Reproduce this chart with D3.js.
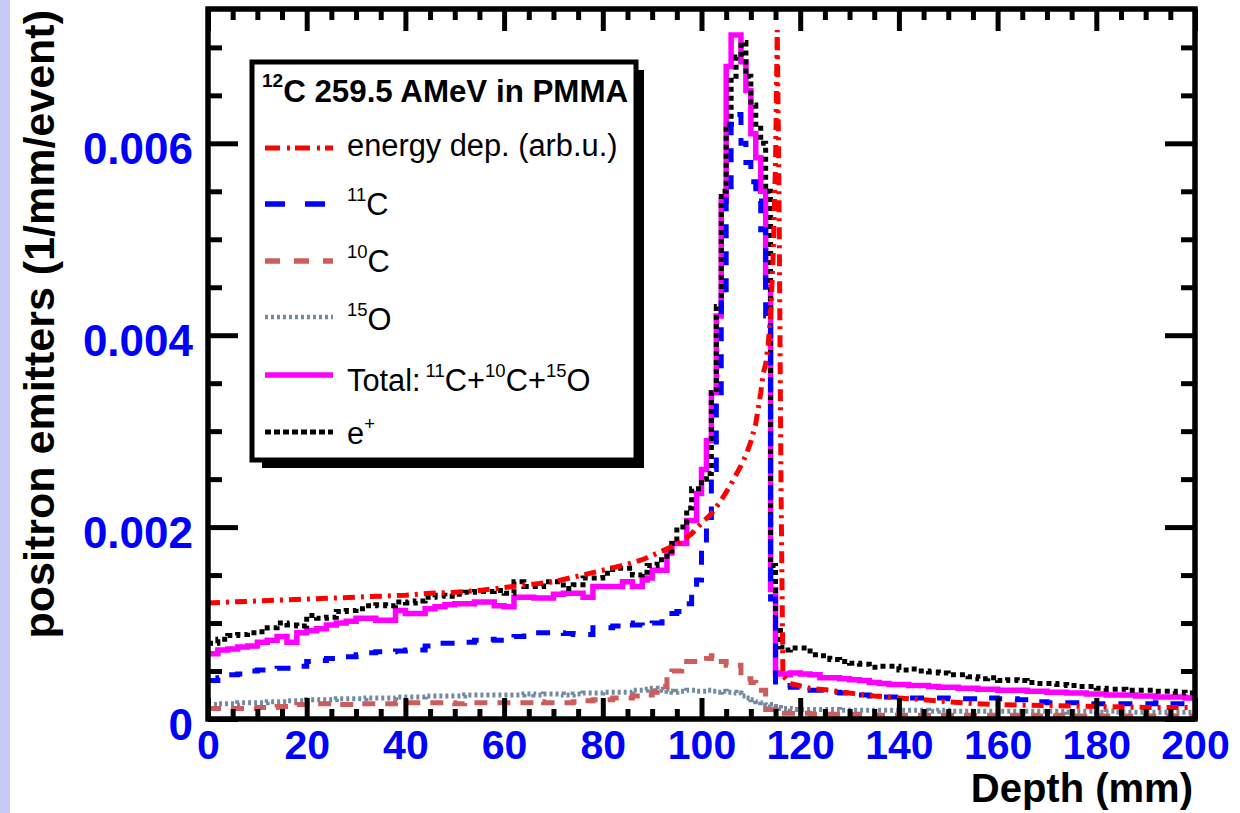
<!DOCTYPE html>
<html><head><meta charset="utf-8">
<script src="https://cdn.jsdelivr.net/npm/d3@7/dist/d3.min.js"></script>
<style>html,body{margin:0;padding:0;background:#fff;overflow:hidden;} svg{display:block;}</style>
</head><body>
<svg id="chart" width="1240" height="813"></svg>
<script>
// ---------------- DATA ----------------
// histogram bin edges (mm): 2 mm bins 0-88, 1 mm bins 88-118, 2 mm bins 118-200
const depthEdges = [
  0,2,4,6,8,10,12,14,16,18,20,22,24,26,28,30,32,34,36,38,40,42,44,46,48,50,52,54,56,58,60,62,64,66,68,70,72,74,76,78,80,82,84,86,88,
  89,90,91,92,93,94,95,96,97,98,99,100,101,102,103,104,105,106,107,108,109,110,111,112,113,114,115,116,117,118,
  120,122,124,126,128,130,132,134,136,138,140,142,144,146,148,150,152,154,156,158,160,162,164,166,168,170,172,174,176,178,180,182,184,186,188,190,192,194,196,198,200
];
// Total: 11C + 10C + 15O
const totalValues = [
  0.00068,0.00072,0.00073,0.00075,0.00076,0.0008,0.00082,0.00086,0.0008,0.0009,
  0.00092,0.00094,0.00098,0.001,0.00102,0.00105,0.00105,0.00103,0.00103,0.00113,
  0.0011,0.0011,0.00115,0.00117,0.00119,0.0012,0.0012,0.00122,0.00122,0.00118,
  0.00117,0.00127,0.00127,0.00126,0.00126,0.0013,0.00131,0.00131,0.00127,0.00138,
  0.00138,0.00138,0.00143,0.00138,
  0.00145,0.00147,0.00155,0.00155,0.00155,0.00173,0.00183,0.00183,0.00183,0.00207,
  0.00207,0.00235,0.0026,0.0029,0.0034,0.0042,0.0054,0.0068,0.00713,0.00713,
  0.00685,0.00655,0.0061,0.00585,0.0055,0.0045,0.00135,0.00048,0.00047,0.00046,
  0.00048,0.00047,0.00046,0.00043,0.00043,0.00042,0.00041,0.0004,0.00038,0.00037,
  0.00036,0.00036,0.00035,0.00035,0.00034,0.00033,0.00033,0.00032,0.00032,0.00031,
  0.00031,0.0003,0.0003,0.0003,0.00029,0.00029,0.00028,0.00028,0.00027,0.00027,
  0.00026,0.00026,0.00025,0.00025,0.00025,0.00024,0.00024,0.00023,0.00023,0.00023,0.00022
];
const c11Values = [
  0.0004,0.00043,0.00046,0.00047,0.0005,0.00051,0.00052,0.00053,0.00053,0.00055,
  0.0006,0.00061,0.00063,0.00065,0.00065,0.00067,0.00069,0.0007,0.0007,0.00071,
  0.00072,0.00072,0.00076,0.00079,0.00079,0.0008,0.0008,0.00082,0.00083,0.00082,
  0.00084,0.00086,0.0009,0.0009,0.0009,0.0009,0.00089,0.00088,0.00088,0.00095,
  0.00095,0.00097,0.001,0.00098,
  0.00097,0.00098,0.001,0.001,0.00105,0.00105,0.0011,0.00112,0.00118,0.0012,
  0.0013,0.00145,0.00176,0.0021,0.0026,0.0033,0.0044,0.0055,0.0062,0.0063,
  0.006,0.0058,0.0056,0.0054,0.0051,0.0042,0.00125,0.00036,0.00035,0.00035,
  0.00033,0.00032,0.0003,0.0003,0.00028,0.00027,0.00025,0.00025,0.00024,0.00023,
  0.00023,0.00023,0.00022,0.00022,0.00022,0.00022,0.00021,0.00021,0.00021,0.00021,
  0.00022,0.00021,0.00021,0.0002,0.0002,0.00018,0.00017,0.00017,0.00017,0.00017,
  0.00016,0.00016,0.00016,0.00016,0.00016,0.00016,0.00016,0.00017,0.00016,0.00016,0.00016
];
const c10Values = [
  0.00011,0.00011,0.00011,0.00011,0.00011,0.00012,0.00012,0.00013,0.00013,0.00015,
  0.00015,0.00016,0.00016,0.00015,0.00015,0.00016,0.00016,0.00016,0.00016,0.00017,
  0.00017,0.00017,0.00017,0.00017,0.00017,0.00016,0.00017,0.00017,0.00017,0.00017,
  0.00017,0.00017,0.00017,0.00018,0.00017,0.00017,0.00017,0.00018,0.00019,0.0002,
  0.0002,0.00022,0.00022,0.00024,
  0.00025,0.00025,0.00028,0.00034,0.00034,0.00045,0.0005,0.0005,0.00055,0.0006,
  0.0006,0.0006,0.0006,0.00063,0.00066,0.00066,0.0006,0.00056,0.00056,0.00056,
  0.00045,0.00042,0.00038,0.0003,0.0003,0.0001,0.0001,0.00007,0.00006,0.00006,
  0.00006,0.00006,0.00005,0.00005,0.00005,0.00005,0.00005,0.00004,0.00004,0.00004,
  0.00004,0.00004,0.00004,0.00004,0.00004,0.00004,0.00004,0.00004,0.00004,0.00004,
  0.00004,0.00004,0.00004,0.00003,0.00004,0.00003,0.00003,0.00004,0.00003,0.00003,
  0.00003,0.00003,0.00003,0.00003,0.00003,0.00003,0.00003,0.00003,0.00003,0.00003,0.00003
];
const o15Values = [
  0.00015,0.00016,0.00016,0.00017,0.00017,0.00017,0.00018,0.00018,0.00019,0.00019,
  0.0002,0.0002,0.0002,0.00021,0.00021,0.00021,0.00022,0.00022,0.00022,0.00023,
  0.00023,0.00023,0.00024,0.00024,0.00024,0.00024,0.00025,0.00025,0.00025,0.00025,
  0.00025,0.00025,0.00026,0.00025,0.00026,0.00026,0.00025,0.00026,0.00027,0.00027,
  0.00028,0.00028,0.00028,0.0003,
  0.0003,0.00031,0.00032,0.00031,0.0003,0.00029,0.00028,0.00029,0.00029,0.0003,
  0.0003,0.00029,0.00029,0.0003,0.00029,0.00028,0.00029,0.00028,0.00028,0.00027,
  0.00024,0.00022,0.0002,0.00018,0.00017,0.00015,0.00013,0.00012,0.00011,0.00011,
  0.0001,0.0001,0.0001,0.0001,0.0001,0.00009,0.00009,0.00009,0.00009,0.00009,
  0.00009,0.00009,0.00009,0.00009,0.00008,0.00009,0.00008,0.00008,0.00008,0.00008,
  0.00008,0.00008,0.00008,0.00008,0.00008,0.00008,0.00008,0.00008,0.00007,0.00008,
  0.00008,0.00007,0.00008,0.00007,0.00007,0.00007,0.00007,0.00007,0.00007,0.00007,0.00007
];
const positronValues = [
  0.00079,0.00083,0.00087,0.00088,0.0009,0.00091,0.00095,0.001,0.00098,0.00097,
  0.00108,0.00105,0.00106,0.00112,0.00113,0.00115,0.00118,0.00119,0.00118,0.00122,
  0.00121,0.00123,0.00127,0.00129,0.00128,0.0013,0.00132,0.00133,0.00133,0.00134,
  0.00131,0.00143,0.00138,0.00138,0.00143,0.00143,0.00136,0.0014,0.00147,0.00147,
  0.00152,0.00157,0.00157,0.0015,
  0.00153,0.0016,0.0016,0.00166,0.00166,0.00175,0.00183,0.002,0.002,0.0022,
  0.0024,0.0024,0.0025,0.00256,0.0034,0.0043,0.0055,0.0062,0.0067,0.0069,
  0.00705,0.0067,0.0064,0.0062,0.006,0.0055,0.0016,0.00095,0.00075,0.00072,
  0.00074,0.00074,0.00067,0.00066,0.00062,0.0006,0.00058,0.00057,0.00054,0.00055,
  0.00055,0.00051,0.00052,0.0005,0.00049,0.00048,0.00046,0.00046,0.00044,0.00042,
  0.00043,0.0004,0.00041,0.0004,0.00038,0.00037,0.00037,0.00036,0.00035,0.00034,
  0.00034,0.00032,0.00031,0.00031,0.0003,0.0003,0.0003,0.00029,0.00029,0.00028,0.00027
];
// energy deposition (arbitrary units), sampled curve
const energyDepth = [0,5,10,15,20,25,30,35,40,45,50,55,60,65,70,75,80,84,88,92,95,98,100,102,104,106,108,109,110,111,112,112.5,113,113.5,114,114.5,115,115.35,115.7,116.1,116.5,118,122,126,130,135,140,145,150,155,160,170,180,190,200];
const energyValues = [0.00121,0.00122,0.00123,0.00124,0.00125,0.00126,0.00127,0.00128,0.00129,0.00131,0.00132,0.00134,0.00137,0.0014,0.00143,0.00149,0.00155,0.0016,0.00166,0.00175,0.00182,0.00193,0.00204,0.00214,0.00228,0.00245,0.00264,0.00275,0.00289,0.00308,0.0034,0.0036,0.0037,0.0039,0.0042,0.0048,0.0058,0.00718,0.0055,0.0025,0.00045,0.00037,0.00032,0.0003,0.00027,0.00024,0.00022,0.0002,0.00018,0.00016,0.00015,0.00014,0.00013,0.00012,0.00012];

const xMajorTicks = [0,20,40,60,80,100,120,140,160,180,200];
const yMajorTicks = [0,0.002,0.004,0.006];

const legendTitle = {sup:"12", main:"C 259.5 AMeV in PMMA"};

// ---------------- LAYOUT ----------------
const W = 1240, H = 813;
const FONT = '"Liberation Sans", Arial, Helvetica, sans-serif';
const svg = d3.select("#chart");
svg.append("rect").attr("width", W).attr("height", H).attr("fill", "#fff");
svg.append("rect").attr("x", 0).attr("y", 0).attr("width", 10).attr("height", H).attr("fill", "#c9c9f5");

const L = 208, R = 1195, T = 9, B = 719;
const x = d3.scaleLinear().domain([0, 200]).range([L, R]);
const y = d3.scaleLinear().domain([0, 0.0074]).range([B, T]);

const xMinorTicks = d3.range(0, 201, 5).filter(v => v % 20 !== 0);
const yMinorTicks = d3.range(0, 0.00741, 0.0005).filter(v => Math.abs(v / 0.002 - Math.round(v / 0.002)) > 1e-6);

// ---------------- CURVES ----------------
const plot = svg.append("g");
function histPoints(vals) {
  return depthEdges.map((e, i) => [e, vals[Math.min(i, vals.length - 1)]]);
}
const stepLine = d3.line().x(d => x(d[0])).y(d => y(d[1])).curve(d3.curveStepAfter);
const smoothLine = d3.line().x(d => x(d[0])).y(d => y(d[1]));

const series = [
  {vals: totalValues, color: "#ff00ff", w: 5.5, dash: null},
  {vals: positronValues, color: "#000000", w: 5, dash: "5,4"},
  {vals: o15Values, color: "#728ba0", w: 5, dash: "3,3"},
  {vals: c10Values, color: "#cd5c5c", w: 5, dash: "13,10"},
  {vals: c11Values, color: "#0000ff", w: 5, dash: "14,13"}
];
series.forEach(s => {
  plot.append("path").attr("d", stepLine(histPoints(s.vals)))
    .attr("fill", "none").attr("stroke", s.color).attr("stroke-width", s.w)
    .attr("stroke-dasharray", s.dash).attr("stroke-linejoin", "miter");
});
plot.append("path").attr("d", smoothLine(energyDepth.map((d, i) => [d, energyValues[i]])))
  .attr("fill", "none").attr("stroke", "#ff0000").attr("stroke-width", 5)
  .attr("stroke-dasharray", "12,6,3,6");

// ---------------- AXES ----------------
function styleAxis(g) {
  g.select(".domain").remove();
  g.selectAll(".tick line").attr("stroke", "#000").attr("stroke-width", 5);
}
// bottom
svg.append("g").attr("transform", `translate(0,${B})`)
  .call(d3.axisBottom(x).tickValues(xMinorTicks).tickSize(-10).tickFormat(""))
  .call(styleAxis);
const xg = svg.append("g").attr("transform", `translate(0,${B})`)
  .call(d3.axisBottom(x).tickValues(xMajorTicks).tickSize(-21).tickPadding(0).tickFormat(d3.format("d")))
  .call(styleAxis);
xg.selectAll(".tick text").attr("y", 40).attr("dy", null)
  .attr("font-family", FONT).attr("font-weight", "bold").attr("font-size", 41).attr("fill", "#0000ff");
// top
svg.append("g").attr("transform", `translate(0,${T})`)
  .call(d3.axisTop(x).tickValues(xMinorTicks).tickSize(-11).tickFormat("")).call(styleAxis);
svg.append("g").attr("transform", `translate(0,${T})`)
  .call(d3.axisTop(x).tickValues(xMajorTicks).tickSize(-22).tickFormat("")).call(styleAxis);
// left
svg.append("g").attr("transform", `translate(${L},0)`)
  .call(d3.axisLeft(y).tickValues(yMinorTicks).tickSize(-14).tickFormat("")).call(styleAxis);
const yg = svg.append("g").attr("transform", `translate(${L},0)`)
  .call(d3.axisLeft(y).tickValues(yMajorTicks).tickSize(-30).tickFormat(d => d === 0 ? "0" : d3.format(".3f")(d)))
  .call(styleAxis);
yg.selectAll(".tick text").attr("x", -15).attr("y", 20).attr("dy", null)
  .attr("font-family", FONT).attr("font-weight", "bold").attr("font-size", 44).attr("fill", "#0000ff");
// right
svg.append("g").attr("transform", `translate(${R},0)`)
  .call(d3.axisRight(y).tickValues(yMinorTicks).tickSize(-14).tickFormat("")).call(styleAxis);
svg.append("g").attr("transform", `translate(${R},0)`)
  .call(d3.axisRight(y).tickValues(yMajorTicks).tickSize(-30).tickFormat("")).call(styleAxis);

// frame
svg.append("rect").attr("x", L).attr("y", T).attr("width", R - L).attr("height", B - T)
  .attr("fill", "none").attr("stroke", "#000").attr("stroke-width", 5.5);

// axis titles
svg.append("text").attr("x", 1193).attr("y", 802).attr("text-anchor", "end")
  .attr("font-family", FONT).attr("font-weight", "bold").attr("font-size", 40).attr("fill", "#000")
  .text("Depth (mm)");
svg.append("text").attr("transform", "translate(54,10) rotate(-90)").attr("text-anchor", "end")
  .attr("font-family", FONT).attr("font-weight", "bold").attr("font-size", 43).attr("fill", "#000")
  .text("positron emitters (1/mm/event)");

// ---------------- LEGEND ----------------
const lg = svg.append("g");
lg.append("rect").attr("x", 262).attr("y", 70).attr("width", 382).attr("height", 398).attr("fill", "#000");
lg.append("rect").attr("x", 252).attr("y", 62).attr("width", 384).attr("height", 398)
  .attr("fill", "#fff").attr("stroke", "#000").attr("stroke-width", 5);

const ht = lg.append("text").attr("x", 262).attr("y", 102).attr("font-family", FONT).attr("font-weight", "bold").attr("fill", "#000");
ht.append("tspan").attr("font-size", 19).attr("dy", -15).text(legendTitle.sup);
ht.append("tspan").attr("font-size", 31.3).attr("dy", 15).text(legendTitle.main);

const legendEntries = [
  {ly: 148, ty: 156, color: "#ff0000", w: 5, dash: "15,7,3,5", parts: [["", "energy dep. (arb.u.)"]]},
  {ly: 204, ty: 215, color: "#0000ff", w: 5.5, dash: "20,20", parts: [["11", "C"]]},
  {ly: 261, ty: 272, color: "#cd5c5c", w: 5.5, dash: "15,14", parts: [["10", "C"]]},
  {ly: 317, ty: 330, color: "#728ba0", w: 4.5, dash: "3,3", parts: [["15", "O"]]},
  {ly: 375, ty: 391, color: "#ff00ff", w: 5.5, dash: null, parts: [["", "Total:"], ["11", "C+"], ["10", "C+"], ["15", "O"]]},
  {ly: 432, ty: 444, color: "#000000", w: 5, dash: "6,3", parts: [["", "e"], ["+", ""]]}
];
legendEntries.forEach(e => {
  lg.append("line").attr("x1", 265).attr("x2", 333).attr("y1", e.ly).attr("y2", e.ly)
    .attr("stroke", e.color).attr("stroke-width", e.w).attr("stroke-dasharray", e.dash);
  const t = lg.append("text").attr("x", 347).attr("y", e.ty).attr("font-family", FONT).attr("font-size", 30.8).attr("fill", "#000");
  e.parts.forEach((p, i) => {
    if (p[0]) {
      t.append("tspan").attr("font-size", 18.5).attr("dy", -14).attr("dx", i > 0 && e.parts[i-1][1] === "Total:" ? 5 : 0).text(p[0]);
      if (p[1]) t.append("tspan").attr("dy", 14).text(p[1]);
    } else {
      t.append("tspan").text(p[1]);
    }
  });
});
</script>
</body></html>
